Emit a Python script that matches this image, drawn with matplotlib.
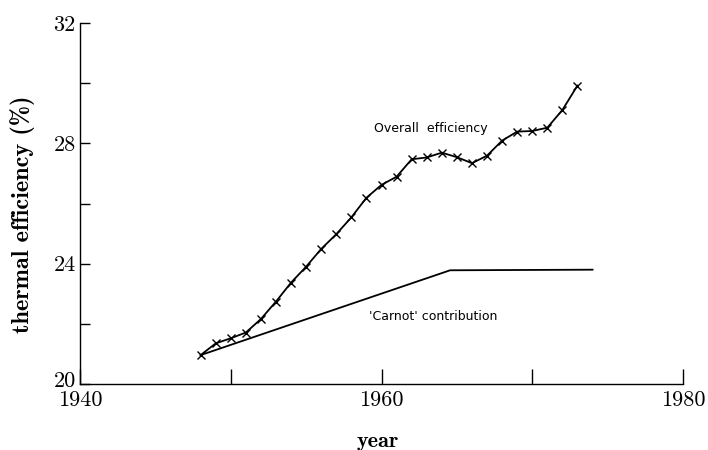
import matplotlib
matplotlib.use('Agg')
from matplotlib import pyplot as plt
from matplotlib import transforms

# overall thermal efficiency, one point per year
years = [1948, 1949, 1950, 1951, 1952, 1953, 1954, 1955, 1956, 1957, 1958, 1959, 1960,
         1961, 1962, 1963, 1964, 1965, 1966, 1967, 1968, 1969, 1970, 1971, 1972, 1973]
overall = [20.96, 21.35, 21.52, 21.71, 22.16, 22.74, 23.37, 23.90, 24.49, 24.98, 25.54, 26.19, 26.62,
           26.89, 27.47, 27.53, 27.69, 27.54, 27.34, 27.59, 28.09, 28.39, 28.41, 28.52, 29.11, 29.92]

# 'Carnot' contribution (piecewise straight)
carnot_years = [1948.0, 1964.55, 1974.0]
carnot = [20.96, 23.78, 23.80]

x_ticks = [1940, 1950, 1960, 1970, 1980]
x_labels = ['1940', '', '1960', '', '1980']
y_ticks = [20, 22, 24, 26, 28, 30, 32]
y_labels = ['20', '', '24', '', '28', '', '32']

fig = plt.figure(figsize=(7.08, 4.5), dpi=100)
ax = fig.add_axes([80 / 708, (450 - 384) / 450, 603 / 708, 361 / 450])

ax.plot(years, overall, color='black', lw=1.3, marker='x', markersize=6, mew=1.0)
ax.plot(carnot_years, carnot, color='black', lw=1.3)

ax.set_xlim(1940, 1980)
ax.set_ylim(20, 32)

ax.spines['top'].set_visible(False)
ax.spines['right'].set_visible(False)
for s in ['left', 'bottom']:
    ax.spines[s].set_linewidth(1.0)

ax.set_xticks(x_ticks)
ax.set_xticklabels(x_labels, family='cmr10', fontsize=16)
ax.set_yticks(y_ticks)
ax.set_yticklabels(y_labels, family='cmr10', fontsize=16)
ax.tick_params(axis='x', direction='in', length=11, width=1.0, pad=5)
ax.tick_params(axis='y', direction='in', length=7, width=1.0, pad=3)

# the '20' sits a little above the corner, as in the original
lbl20 = ax.get_yticklabels()[0]
lbl20.set_transform(lbl20.get_transform() + transforms.ScaledTranslation(0, 5 / 100, fig.dpi_scale_trans))

ax.set_ylabel('thermal efficiency (%)', family='cmb10', fontsize=17.5, va='center')
ax.yaxis.set_label_coords(-0.095, 0.471)
ax.set_xlabel('year', family='cmb10', fontsize=16, va='center')
ax.xaxis.set_label_coords(0.494, -0.16)

ax.text(1963.3, 28.48, 'Overall  efficiency', ha='center', va='center',
        family='DejaVu Sans', fontsize=9)
ax.text(1963.4, 22.23, "'Carnot' contribution", ha='center', va='center',
        family='DejaVu Sans', fontsize=9)

fig.savefig('out.png', dpi=100)
